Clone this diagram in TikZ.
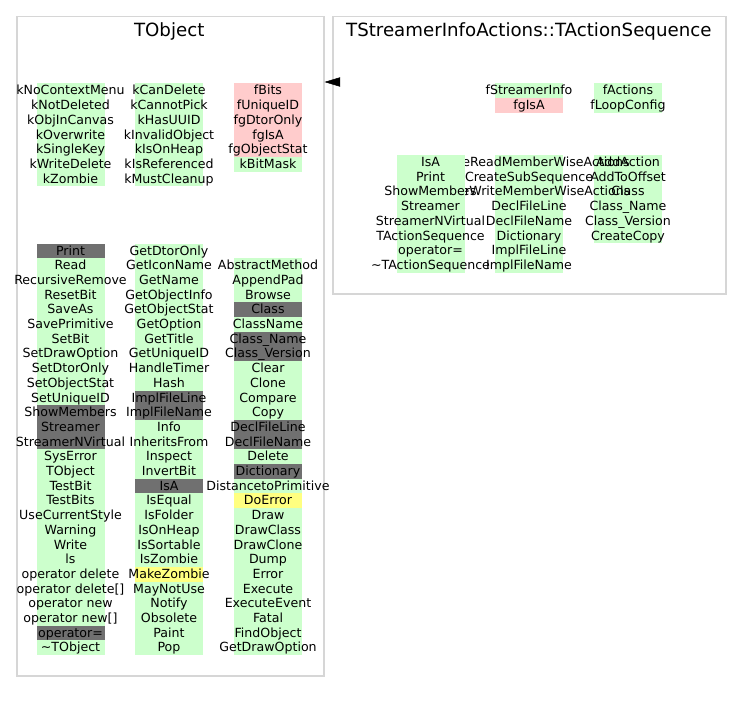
\documentclass[tikz,border=0pt]{standalone}
\usepackage{fontspec}
\setmainfont{DejaVu Sans}
\usetikzlibrary{arrows.meta}
\definecolor{cg}{HTML}{CCFFCC}
\definecolor{cr}{HTML}{FFCCCC}
\definecolor{cd}{HTML}{707070}
\definecolor{cy}{HTML}{FFFF80}
\definecolor{boxc}{HTML}{D6D6D6}
\tikzset{
  lbl/.style={anchor=base,inner sep=0pt,font=\fontsize{12.6bp}{14.7bp}\selectfont},
  ttl/.style={anchor=base,inner sep=0pt,font=\fontsize{18.2bp}{21bp}\selectfont},
  classbox/.style={draw=boxc,line width=1.8bp,anchor=north west,inner sep=0pt},
}
% backgrounds of one column: centre x, top y, list
\newcommand\colbg[3]{%
  \foreach \t/\c [count=\i] in #3 {%
    \fill[\c] ({#1-34},{#2+(\i-1)*14.7}) rectangle ({#1+34},{#2+\i*14.7});}}
% texts of one column: name prefix, centre x, top y, list
\newcommand\coltext[4]{%
  \foreach \t/\c [count=\i] in #4 {%
    \node[lbl] (#1\i) at ({#2},{#3+(\i-1)*14.7+11.5}) {\t};}}

\def\ListOA{kNoContextMenu/cg,kNotDeleted/cg,kObjInCanvas/cg,kOverwrite/cg,kSingleKey/cg,kWriteDelete/cg,kZombie/cg}
\def\ListOB{kCanDelete/cg,kCannotPick/cg,kHasUUID/cg,kInvalidObject/cg,kIsOnHeap/cg,kIsReferenced/cg,kMustCleanup/cg}
\def\ListOC{fBits/cr,fUniqueID/cr,fgDtorOnly/cr,fgIsA/cr,fgObjectStat/cr,kBitMask/cg}
\def\ListMA{Print/cd,Read/cg,RecursiveRemove/cg,ResetBit/cg,SaveAs/cg,SavePrimitive/cg,SetBit/cg,SetDrawOption/cg,SetDtorOnly/cg,SetObjectStat/cg,SetUniqueID/cg,ShowMembers/cd,Streamer/cd,StreamerNVirtual/cd,SysError/cg,TObject/cg,TestBit/cg,TestBits/cg,UseCurrentStyle/cg,Warning/cg,Write/cg,ls/cg,operator delete/cg,operator delete[]/cg,operator new/cg,operator new[]/cg,operator=/cd,\textasciitilde TObject/cg}
\def\ListMB{GetDtorOnly/cg,GetIconName/cg,GetName/cg,GetObjectInfo/cg,GetObjectStat/cg,GetOption/cg,GetTitle/cg,GetUniqueID/cg,HandleTimer/cg,Hash/cg,ImplFileLine/cd,ImplFileName/cd,Info/cg,InheritsFrom/cg,Inspect/cg,InvertBit/cg,IsA/cd,IsEqual/cg,IsFolder/cg,IsOnHeap/cg,IsSortable/cg,IsZombie/cg,MakeZombie/cy,MayNotUse/cg,Notify/cg,Obsolete/cg,Paint/cg,Pop/cg}
\def\ListMC{AbstractMethod/cg,AppendPad/cg,Browse/cg,Class/cd,ClassName/cg,Class\_Name/cd,Class\_Version/cd,Clear/cg,Clone/cg,Compare/cg,Copy/cg,DeclFileLine/cd,DeclFileName/cd,Delete/cg,Dictionary/cd,DistancetoPrimitive/cg,DoError/cy,Draw/cg,DrawClass/cg,DrawClone/cg,Dump/cg,Error/cg,Execute/cg,ExecuteEvent/cg,Fatal/cg,FindObject/cg,GetDrawOption/cg}
\def\ListSB{fStreamerInfo/cg,fgIsA/cr}
\def\ListSC{fActions/cg,fLoopConfig/cg}
\def\ListTA{IsA/cg,Print/cg,ShowMembers/cg,Streamer/cg,StreamerNVirtual/cg,TActionSequence/cg,operator=/cg,\textasciitilde TActionSequence/cg}
\def\ListTB{CreateReadMemberWiseActions/cg,CreateSubSequence/cg,CreateWriteMemberWiseActions/cg,DeclFileLine/cg,DeclFileName/cg,Dictionary/cg,ImplFileLine/cg,ImplFileName/cg}
\def\ListTC{AddAction/cg,AddToOffset/cg,Class/cg,Class\_Name/cg,Class\_Version/cg,CreateCopy/cg}

\begin{document}
\begin{tikzpicture}[x=1bp,y=-1bp]
\useasboundingbox (0,0) rectangle (741,703);
% class boxes
\node[classbox,minimum width=307bp,minimum height=659.3bp] (tobj) at (15.7,15.7) {};
\node[classbox,minimum width=393.3bp,minimum height=277.6bp] (tas) at (331.7,15.7) {};
\node[ttl] (tobjt) at (169.2,36.7) {TObject};
\node[ttl] (tast) at (528.8,36.7) {TStreamerInfoActions::TActionSequence};
% TObject members
\colbg{70.5}{83.5}{\ListOA}
\colbg{169}{83.5}{\ListOB}
\colbg{268}{83.5}{\ListOC}
\colbg{70.5}{243.5}{\ListMA}
\colbg{169}{243.5}{\ListMB}
\colbg{268}{258.2}{\ListMC}
\coltext{oa}{70.5}{83.5}{\ListOA}
\coltext{ob}{169}{83.5}{\ListOB}
\coltext{oc}{268}{83.5}{\ListOC}
\coltext{ma}{70.5}{243.5}{\ListMA}
\coltext{mb}{169}{243.5}{\ListMB}
\coltext{mc}{268}{258.2}{\ListMC}
% TActionSequence members
\colbg{529}{83.5}{\ListSB}
\colbg{628}{83.5}{\ListSC}
\coltext{sb}{529}{83.5}{\ListSB}
\coltext{sc}{628}{83.5}{\ListSC}
\colbg{628}{155}{\ListTC}
\colbg{529}{155}{\ListTB}
\coltext{tb}{529}{155}{\ListTB}
\colbg{430.5}{155}{\ListTA}
\coltext{ta}{430.5}{155}{\ListTA}
\coltext{tc}{628}{155}{\ListTC}
% inheritance arrow
\coordinate (a1) at (337,82);
\draw[line width=0.5bp,-{Triangle[length=15.7bp,width=9.4bp]}] (a1) -- (tobj.east |- a1);
\end{tikzpicture}
\end{document}
